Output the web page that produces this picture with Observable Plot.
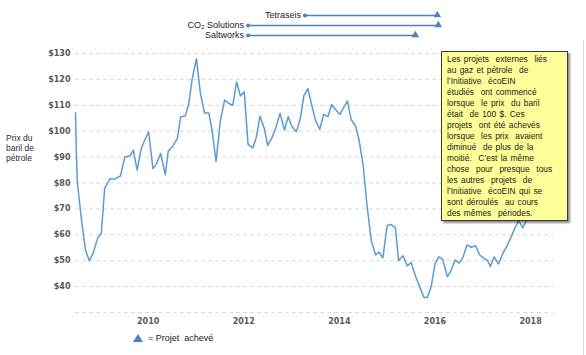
<!DOCTYPE html>
<html>
<head>
<meta charset="utf-8">
<script src="https://cdn.jsdelivr.net/npm/d3@7"></script>
<script src="https://cdn.jsdelivr.net/npm/@observablehq/plot@0.6"></script>
<style>
  html, body { margin: 0; padding: 0; background: #fff; }
  #wrap { position: relative; width: 586px; height: 355px; overflow: hidden; background: #fff; }
  #gantt { position: absolute; left: 0; top: 0; }
  #main { position: absolute; left: 0; top: 40px; }
  #ytitle { position: absolute; left: 6px; top: 133px; font: 8.5px "Liberation Sans", Arial, sans-serif; line-height: 10px; color: #2a2a40; }
  #note { position: absolute; left: 441px; top: 51px; width: 120px; height: 166px; background: #ffff99; border: 1px solid #3a3a3a; box-shadow: 2px 2px 2px rgba(0,0,0,0.45); padding: 2px 0 0 5px; font: 8.4px "Liberation Sans", Arial, sans-serif; line-height: 11px; color: #1a1a1a; white-space: pre; word-spacing: 1px; }
  #legend { position: absolute; left: 133px; top: 331px; font: 9px "Liberation Sans", Arial, sans-serif; color: #222; line-height: 14px; white-space: nowrap; }
  #legend svg { vertical-align: -1px; margin-right: 5px; }
  #edge { position: absolute; left: 583px; top: 40px; width: 1px; height: 315px; background: #d9d9d9; }
</style>
</head>
<body>
<div id="wrap">
  <div id="gantt"></div>
  <div id="main"></div>
  <div id="ytitle">Prix du<br>baril de<br>pétrole</div>
  <div id="note"></div>
  <div id="legend"><svg width="10" height="8" viewBox="0 0 10 8"><polygon points="5,0 10,8 0,8" fill="#4f81bd"/></svg>= Projet&nbsp; achevé</div>
  <div id="edge"></div>
</div>
<script>
// ---- Oil price series (decimal year, $ per barrel) ----
const years = [
  2008.48, 2008.50, 2008.52, 2008.61, 2008.69, 2008.77, 2008.85, 2008.95, 2009.02, 2009.09,
  2009.20, 2009.28, 2009.42, 2009.51, 2009.62, 2009.69, 2009.77, 2009.85, 2009.92, 2010.01,
  2010.10, 2010.17, 2010.26, 2010.36, 2010.42, 2010.51, 2010.61, 2010.68, 2010.78, 2010.85,
  2010.92, 2011.01, 2011.09, 2011.18, 2011.27, 2011.34, 2011.42, 2011.51, 2011.60, 2011.69,
  2011.77, 2011.85, 2011.93, 2012.01, 2012.09, 2012.19, 2012.26, 2012.34, 2012.43, 2012.50,
  2012.58, 2012.66, 2012.76, 2012.85, 2012.93, 2013.01, 2013.10, 2013.18, 2013.26, 2013.34,
  2013.42, 2013.50, 2013.59, 2013.67, 2013.76, 2013.84, 2013.92, 2014.01, 2014.09, 2014.17,
  2014.25, 2014.34, 2014.41, 2014.50, 2014.58, 2014.67, 2014.76, 2014.83, 2014.91, 2015.00,
  2015.08, 2015.17, 2015.24, 2015.33, 2015.42, 2015.50, 2015.59, 2015.68, 2015.77, 2015.84,
  2015.92, 2016.00, 2016.08, 2016.16, 2016.26, 2016.34, 2016.42, 2016.51, 2016.59, 2016.67,
  2016.76, 2016.85, 2016.93, 2017.02, 2017.10, 2017.16, 2017.24, 2017.33, 2017.42, 2017.51,
  2017.59, 2017.68, 2017.75, 2017.84, 2017.91, 2018.00, 2018.08, 2018.17, 2018.25, 2018.33,
  2018.42
];
const prices = [
  107, 90, 80, 65, 54, 50, 53, 59, 60.5, 78,
  81.6, 81.4, 82.7, 90, 90.4, 92.7, 85, 92.9, 96.2, 99.7,
  85.6, 87.2, 91.4, 83.2, 92.3, 94, 97.1, 105.5, 106, 110.7,
  120, 128, 115, 107, 107, 100, 88.2, 104, 112, 110.7,
  110, 119, 113.6, 115.2, 94.9, 93.6, 97.5, 105.8, 101, 94.5,
  97.1, 100.7, 106.9, 100.4, 105.6, 101.7, 99.8, 104.6, 113.8, 116.4,
  110.3, 104.3, 100.7, 106.5, 105.6, 110.3, 108.4, 106.5, 109.1, 111.6,
  104.3, 102, 96.8, 86.5, 71.1, 57.5, 52.2, 53.3, 51.1, 63.6,
  64, 62.8, 50.1, 51.9, 48, 49.3, 44.2, 39.9, 35.8, 35.8,
  39.9, 48.7, 51.5, 50.6, 43.8, 46.4, 50.3, 49.1, 51.5, 56.1,
  55.2, 55.8, 52.3, 51, 50, 47.8, 51.5, 48.7, 52.8, 55.8,
  59, 62.9, 65.5, 62.7, 65.5, 68, 69, 67, 72, 74,
  75
];

// ---- Projects (start / completion, decimal year) ----
const projects = ["Tetraseis", "CO₂ Solutions", "Saltworks"];
const projectStarts = [2013.28, 2012.09, 2012.09];
const projectEnds = [2016.05, 2016.07, 2015.59];

// ---- Axis ticks ----
const xTicks = [2010, 2012, 2014, 2016, 2018];
const yTicks = [40, 50, 60, 70, 80, 90, 100, 110, 120, 130];
const gridTicks = [30, 40, 50, 60, 70, 80, 90, 100, 110, 120, 130];

// ---- Annotation text ----
const noteLines = [
  "Les projets  externes  liés",
  "au gaz et pétrole  de",
  "l’Initiative  écoEIN",
  "étudiés  ont commencé",
  "lorsque  le prix  du baril",
  "était  de 100 $. Ces",
  "projets  ont été achevés",
  "lorsque  les prix  avaient",
  "diminué  de plus de la",
  "moitié.  C’est la même",
  "chose  pour  presque  tous",
  "les autres  projets  de",
  "l’Initiative  écoEIN qui se",
  "sont déroulés  au cours",
  "des mêmes  périodes."
];

const xDomain = [2008.48, 2018.48];
const series = years.map((y, i) => ({year: y, price: prices[i]}));
const rows = projects.map((p, i) => ({name: p, start: projectStarts[i], end: projectEnds[i]}));

const blue = "#4f81bd";

const gantt = Plot.plot({
  width: 586,
  height: 40,
  marginLeft: 75,
  marginRight: 33,
  marginTop: 15,
  marginBottom: 5,
  style: {background: "transparent", fontFamily: "Liberation Sans, Arial, sans-serif", fontSize: "9px", color: "#222"},
  x: {domain: xDomain, axis: null},
  y: {type: "point", domain: projects, padding: 0, axis: null},
  marks: [
    Plot.ruleY(rows, {x1: "start", x2: "end", y: "name", stroke: blue, strokeWidth: 1.3}),
    Plot.dot(rows, {x: "start", y: "name", r: 2, fill: blue, stroke: null}),
    Plot.dot(rows, {x: "end", y: "name", r: 2.8, symbol: "triangle", fill: blue, stroke: null, dy: -0.5}),
    Plot.text(rows, {x: "start", y: "name", text: "name", textAnchor: "end", dx: -4, fill: "#222"})
  ]
});
document.getElementById("gantt").appendChild(gantt);

const main = Plot.plot({
  width: 586,
  height: 292,
  marginLeft: 75,
  marginRight: 33,
  marginTop: 13,
  marginBottom: 20,
  style: {background: "transparent", fontFamily: "DejaVu Sans, sans-serif", fontSize: "8px", fontWeight: "bold", color: "#595959"},
  x: {domain: xDomain},
  y: {domain: [30, 130]},
  marks: [
    Plot.gridY(gridTicks, {stroke: "#d9d9d9", strokeOpacity: 1, strokeDasharray: "4,3", strokeWidth: 1}),
    Plot.axisY(yTicks, {tickSize: 0, tickPadding: 5, tickFormat: d => "$" + d, label: null}),
    Plot.axisX(xTicks, {tickSize: 0, tickPadding: 6, tickFormat: d => String(d), label: null}),
    Plot.line(series, {x: "year", y: "price", stroke: "#5b9bd5", strokeWidth: 1.5})
  ]
});
document.getElementById("main").appendChild(main);

document.getElementById("note").textContent = noteLines.join("\n");
</script>
</body>
</html>
